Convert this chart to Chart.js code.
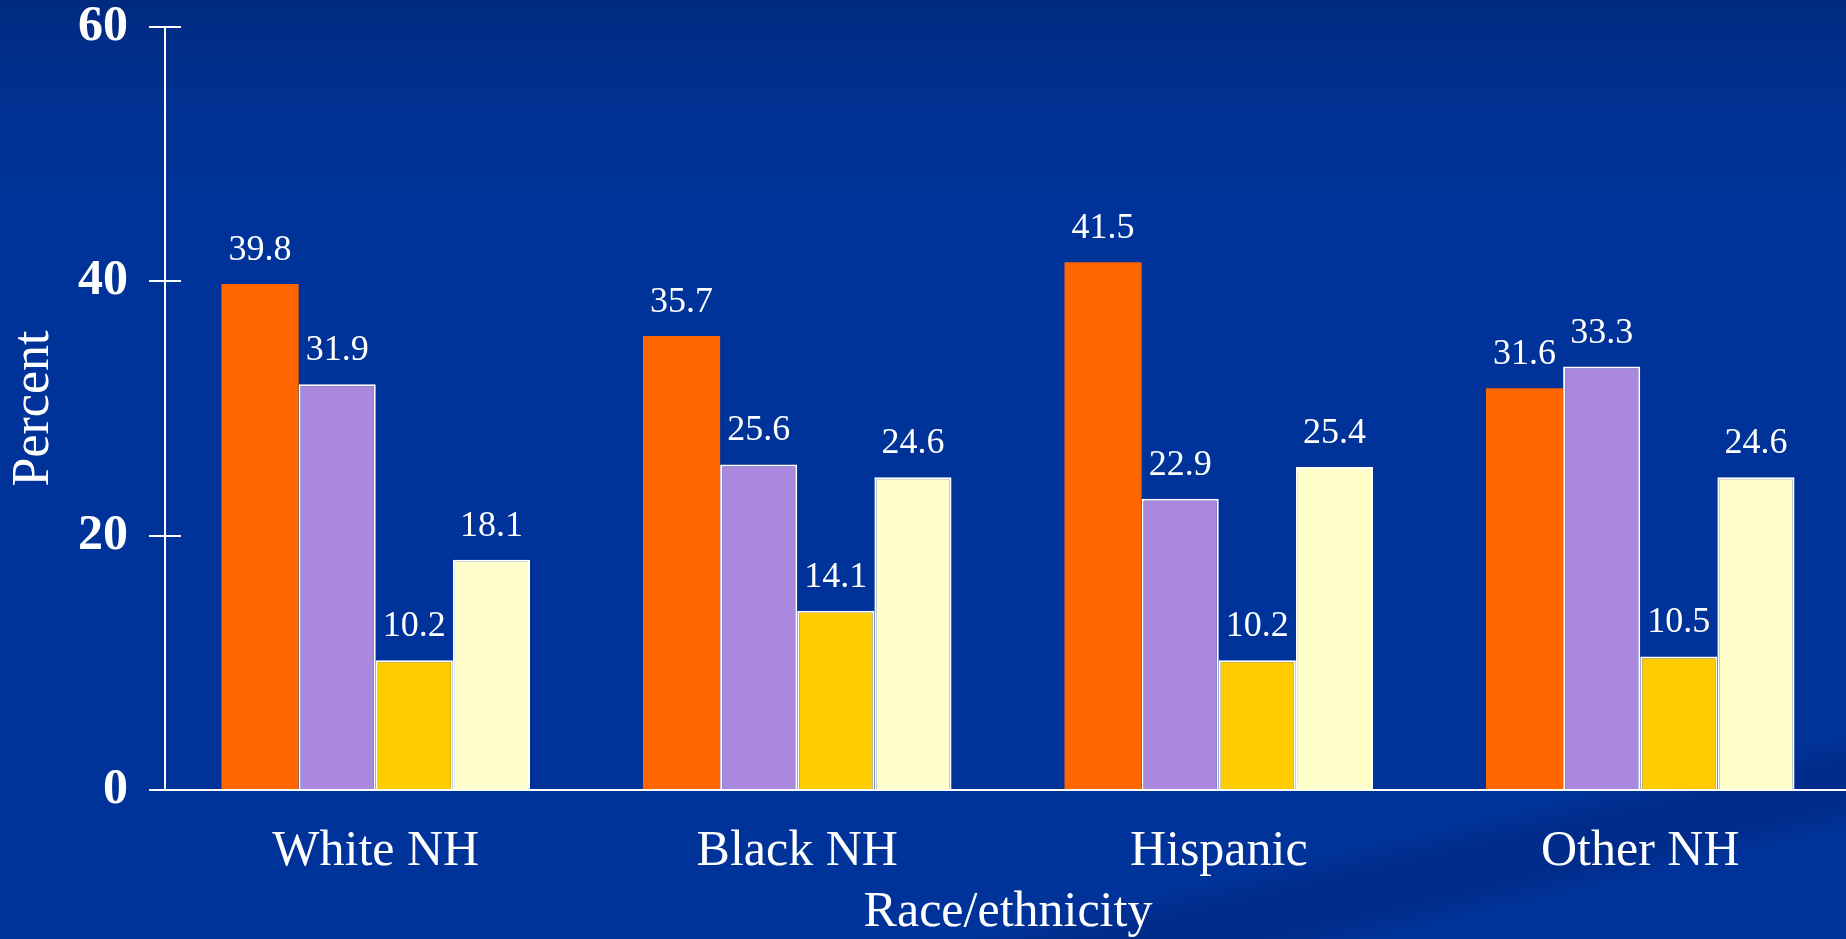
<!DOCTYPE html>
<html>
<head>
<meta charset="utf-8">
<script src="https://cdn.jsdelivr.net/npm/chart.js@4/dist/chart.umd.min.js"></script>
<style>
  html, body { margin: 0; padding: 0; }
  body {
    width: 1846px; height: 939px; overflow: hidden;
    background:
      linear-gradient(-13deg, transparent 0%, transparent 8%, rgba(0, 30, 110, 0.35) 10%, rgba(0, 30, 110, 0.35) 13%, transparent 15%, transparent 100%),
      linear-gradient(to bottom, #002a80 0%, #003293 12%, #003399 22%, #003399 100%);
  }
  /* plot runs a few pixels past the right edge, as in the slide */
  .wrap { position: relative; width: 1851px; height: 939px; }
</style>
</head>
<body>
<div class="wrap"><canvas class="race_chart"></canvas></div>
<script>
const categories = ["White NH", "Black NH", "Hispanic", "Other NH"];
const series1 = [39.8, 35.7, 41.5, 31.6];
const series2 = [31.9, 25.6, 22.9, 33.3];
const series3 = [10.2, 14.1, 10.2, 10.5];
const series4 = [18.1, 24.6, 25.4, 24.6];
const yTicks = [0, 20, 40, 60];

const serif = "'Liberation Serif', 'Times New Roman', serif";

// value printed above every bar
const barValues = {
  id: "barValues",
  afterDatasetsDraw(chart) {
    const ctx = chart.ctx;
    ctx.save();
    ctx.fillStyle = "#ffffff";
    ctx.font = "36px " + serif;
    ctx.textAlign = "center";
    ctx.textBaseline = "alphabetic";
    chart.data.datasets.forEach((ds, i) => {
      chart.getDatasetMeta(i).data.forEach((bar, j) => {
        ctx.fillText(ds.data[j].toFixed(1), bar.x, bar.y - 24);
      });
    });
    ctx.restore();
  }
};

// y ticks cross the axis line, draw the inner half
const innerTicks = {
  id: "innerTicks",
  afterDraw(chart) {
    const ctx = chart.ctx;
    const y = chart.scales.y;
    const left = chart.chartArea.left;
    ctx.save();
    ctx.strokeStyle = "#ffffff";
    ctx.lineWidth = 2;
    y.ticks.forEach(t => {
      const py = Math.round(y.getPixelForValue(t.value));
      ctx.beginPath();
      ctx.moveTo(left, py);
      ctx.lineTo(left + 16, py);
      ctx.stroke();
    });
    ctx.restore();
  }
};

const ctx = document.querySelector(".race_chart").getContext("2d");
const chart = new Chart(ctx, {
  type: "bar",
  data: {
    labels: categories,
    datasets: [{
      data: series1,
      backgroundColor: "#ff6600",
      borderWidth: 0,
    }, {
      data: series2,
      backgroundColor: "#a988dd",
      borderColor: "#ffffff",
      borderWidth: 2,
    }, {
      data: series3,
      backgroundColor: "#ffcc00",
      borderColor: "#ffffff",
      borderWidth: 2,
    }, {
      data: series4,
      backgroundColor: "#ffffcc",
      borderColor: "#ffffff",
      borderWidth: 2,
    }],
  },
  options: {
    responsive: true,
    maintainAspectRatio: false,
    animation: false,
    categoryPercentage: 0.732,
    barPercentage: 1.0,
    layout: { padding: { top: 27, left: 0, right: 0, bottom: 0 } },
    plugins: {
      legend: { display: false },
      tooltip: { enabled: false },
    },
    scales: {
      x: {
        grid: { display: false, drawTicks: false },
        border: { display: true, color: "#ffffff", width: 2 },
        ticks: {
          color: "#ffffff",
          font: { family: serif, size: 50, lineHeight: 1.2 },
          padding: 32,
          maxRotation: 0,
          autoSkip: false,
        },
        title: {
          display: true,
          text: "Race/ethnicity",
          color: "#ffffff",
          font: { family: serif, size: 50, lineHeight: 1.0 },
          padding: { top: -26, bottom: 1 },
        },
      },
      y: {
        min: 0,
        max: 60,
        afterBuildTicks: axis => { axis.ticks = yTicks.map(v => ({ value: v })); },
        grid: {
          drawOnChartArea: false,
          drawTicks: true,
          tickLength: 16,
          color: "#ffffff",
          lineWidth: 2,
        },
        border: { display: true, color: "#ffffff", width: 2 },
        ticks: {
          color: "#ffffff",
          font: { family: serif, size: 50, weight: "bold", lineHeight: 0.2 },
          padding: 21,
        },
        title: {
          display: true,
          text: "Percent",
          color: "#ffffff",
          font: { family: serif, size: 52, lineHeight: 1.0 },
          padding: { top: 8, bottom: -3 },
        },
      },
    },
  },
  plugins: [barValues, innerTicks],
});
</script>
</body>
</html>
